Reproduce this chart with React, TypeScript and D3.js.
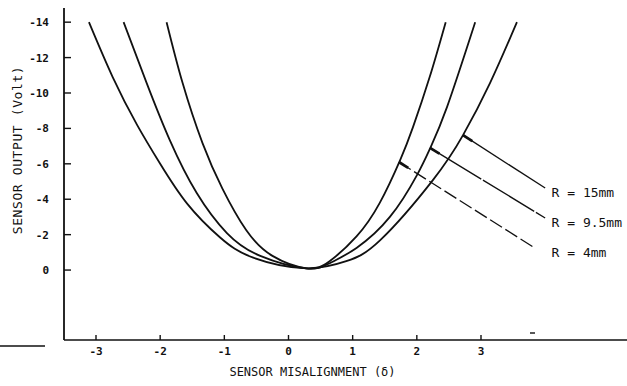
import { useRef, useEffect } from 'react';
import * as d3 from 'd3';

// Sensor misalignment (delta) vs sensor output (Volt), one series per radius
const deltaR15 = [-3.11, -2.74, -2.36, -2.0, -1.58, -1.07, -0.55, 0.28, 0.9, 1.43, 2.25, 2.72, 3.14, 3.56];
const voltR15 = [-14, -10.9, -8.2, -6.0, -3.75, -1.85, -0.7, -0.1, -0.5, -1.69, -5.08, -7.62, -10.56, -14];

const deltaR95 = [-2.57, -2.21, -1.85, -1.43, -0.96, -0.44, 0.28, 0.65, 1.06, 1.58, 2.0, 2.21, 2.47, 2.91];
const voltR95 = [-14, -10.56, -7.34, -4.35, -2.09, -0.8, -0.1, -0.4, -1.25, -3.0, -5.35, -6.9, -9.2, -14];

const deltaR4 = [-1.9, -1.65, -1.34, -1.03, -0.66, -0.25, 0.28, 0.64, 1.06, 1.42, 1.74, 1.94, 2.2, 2.45];
const voltR4 = [-14, -10.56, -7.17, -4.6, -2.26, -0.8, -0.1, -0.5, -1.9, -3.78, -6.21, -8.07, -10.9, -14];

const xTicks = [-3, -2, -1, 0, 1, 2, 3];
const yTicks = [-14, -12, -10, -8, -6, -4, -2, 0];

// callouts: point on curve -> end of leader, label position (data units)
const labels = ['R = 15mm', 'R = 9.5mm', 'R = 4mm'];
const leaderFrom = [[2.72, -7.62], [2.205, -6.9], [1.72, -6.1]];
const leaderTo = [[4.0, -4.63], [4.0, -2.94], [3.84, -1.24]];
const labelAt = [[4.1, -4.4], [4.1, -2.71], [4.1, -1.02]];

const W = 627;
const H = 386;
const ink = '#111';
const mono = '"DejaVu Sans Mono", "Liberation Mono", monospace';

export default function App() {
  const svgRef = useRef<SVGSVGElement>(null);

  useEffect(() => {
    if (!svgRef.current) return;
    const svg = d3.select(svgRef.current);
    svg.selectAll('*').remove();

    const x = d3.scaleLinear().domain([-3, 3]).range([96, 481]);
    const y = d3.scaleLinear().domain([3.95, -14.8]).range([340, 8]);
    const x0 = 64;
    const yBase = y(3.95);

    // Axes lines
    svg.append('line')
      .attr('x1', x0).attr('x2', x0).attr('y1', y(-14.8)).attr('y2', yBase)
      .attr('stroke', ink).attr('stroke-width', 1.8);
    svg.append('line')
      .attr('x1', x0).attr('x2', W).attr('y1', yBase).attr('y2', yBase)
      .attr('stroke', ink).attr('stroke-width', 1.6);

    // Y ticks (pointing into the plot)
    svg.append('g').selectAll('line')
      .data(yTicks).enter().append('line')
      .attr('x1', x0).attr('x2', x0 + 7)
      .attr('y1', (d) => y(d)).attr('y2', (d) => y(d))
      .attr('stroke', ink).attr('stroke-width', 1.4);
    svg.append('g').selectAll('text')
      .data(yTicks).enter().append('text')
      .attr('x', 49).attr('y', (d) => y(d) + 4)
      .attr('text-anchor', 'end')
      .attr('font-family', mono).attr('font-size', 11).attr('font-weight', 'bold')
      .attr('fill', ink)
      .text((d) => (d === 0 ? '0' : `-${Math.abs(d)}`));

    // X ticks (pointing up)
    svg.append('g').selectAll('line')
      .data(xTicks).enter().append('line')
      .attr('x1', (d) => x(d)).attr('x2', (d) => x(d))
      .attr('y1', yBase).attr('y2', yBase - 5)
      .attr('stroke', ink).attr('stroke-width', 1.4);
    svg.append('g').selectAll('text')
      .data(xTicks).enter().append('text')
      .attr('x', (d) => x(d)).attr('y', yBase + 15)
      .attr('text-anchor', 'middle')
      .attr('font-family', mono).attr('font-size', 11).attr('font-weight', 'bold')
      .attr('fill', ink)
      .text((d) => (d < 0 ? `-${Math.abs(d)}` : `${d}`));

    // Axis titles
    svg.append('text')
      .attr('x', (x(-3) + x(3)) / 2 + 24).attr('y', 376)
      .attr('text-anchor', 'middle')
      .attr('font-family', mono).attr('font-size', 12)
      .attr('fill', ink)
      .text('SENSOR MISALIGNMENT (δ)');
    svg.append('text')
      .attr('transform', 'translate(22,150) rotate(-90)')
      .attr('text-anchor', 'middle')
      .attr('font-family', mono).attr('font-size', 13).attr('letter-spacing', 0.6)
      .attr('fill', ink)
      .text('SENSOR OUTPUT (Volt)');

    // Curves
    const line = d3.line<[number, number]>()
      .x((d) => x(d[0]))
      .y((d) => y(d[1]))
      .curve(d3.curveNatural);
    const series: [number[], number[]][] = [
      [deltaR15, voltR15],
      [deltaR95, voltR95],
      [deltaR4, voltR4],
    ];
    series.forEach(([dx, dv]) => {
      const pts = dx.map((d, i) => [d, dv[i]] as [number, number]);
      svg.append('path')
        .attr('d', line(pts))
        .attr('fill', 'none')
        .attr('stroke', ink)
        .attr('stroke-width', 1.8);
    });

    // Leaders and labels
    labels.forEach((lab, i) => {
      const [fx, fy] = leaderFrom[i];
      const [tx, ty] = leaderTo[i];
      const px1 = x(fx), py1 = y(fy), px2 = x(tx), py2 = y(ty);
      svg.append('line')
        .attr('x1', px1).attr('y1', py1).attr('x2', px2).attr('y2', py2)
        .attr('stroke', ink).attr('stroke-width', 1.3)
        .attr('stroke-dasharray', i === 2 ? '14,4' : i === 1 ? '60,2' : null);
      // heavy stub at the curve end
      const len = Math.hypot(px2 - px1, py2 - py1);
      const ux = (px2 - px1) / len, uy = (py2 - py1) / len;
      svg.append('line')
        .attr('x1', px1).attr('y1', py1).attr('x2', px1 + ux * 11).attr('y2', py1 + uy * 11)
        .attr('stroke', ink).attr('stroke-width', 2.8);
      const [lx, ly] = labelAt[i];
      svg.append('text')
        .attr('x', x(lx)).attr('y', y(ly) + 5)
        .attr('font-family', mono).attr('font-size', 13)
        .attr('fill', ink)
        .text(lab);
    });

    // stray scan marks
    svg.append('line')
      .attr('x1', 0).attr('x2', 45).attr('y1', 346).attr('y2', 346)
      .attr('stroke', ink).attr('stroke-width', 1.4);
    svg.append('line')
      .attr('x1', 530).attr('x2', 535).attr('y1', 333).attr('y2', 333)
      .attr('stroke', ink).attr('stroke-width', 1.4);
  }, []);

  return (
    <svg
      ref={svgRef}
      width={W}
      height={H}
      style={{ position: 'absolute', left: 0, top: 0, background: '#fff', display: 'block' }}
    />
  );
}
